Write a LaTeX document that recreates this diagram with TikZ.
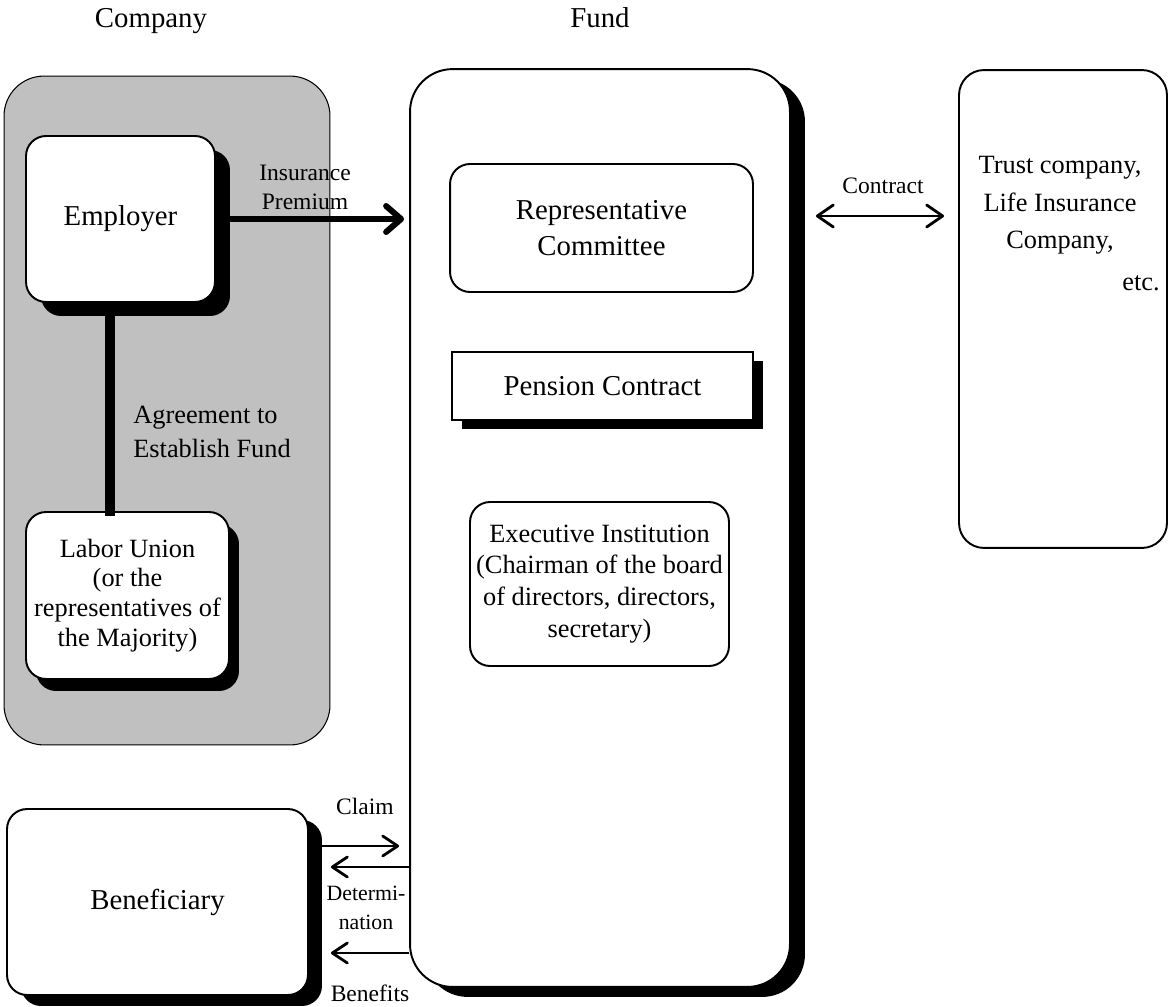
\documentclass[tikz,border=0pt]{standalone}
\usepackage{fontspec}
\setmainfont{Liberation Serif}
\usetikzlibrary{arrows.meta,shadows}
\definecolor{panel}{RGB}{192,192,192}

\tikzset{
  big/.style={font=\fontsize{16.4pt}{20.4pt}\selectfont},
  mid/.style={font=\fontsize{15pt}{17pt}\selectfont},
  small/.style={font=\fontsize{13.4pt}{16.4pt}\selectfont},
  tiny/.style={font=\fontsize{12.4pt}{16.4pt}\selectfont},
  box/.style={draw, line width=1.1pt, rounded corners=0.4cm, fill=white,
    inner sep=0pt, align=center},
  shade/.style 2 args={drop shadow={shadow xshift=#1, shadow yshift=#2,
    fill=black, opacity=1}},
  label/.style={inner sep=0pt, align=center},
  premium/.style={line width=3.4pt,
    -{Straight Barb[length=0.3cm,width=0.52cm,round]}},
  agreement/.style={line width=5.7pt},
  flow/.style={line width=1.6pt,
    -{Straight Barb[length=0.3cm,width=0.4cm,round]}},
  contract/.style={line width=1.6pt,
    {Straight Barb[length=0.32cm,width=0.44cm,round]}-{Straight Barb[length=0.32cm,width=0.44cm,round]}}
}

\begin{document}
\begin{tikzpicture}[x=0.02cm, y=-0.02cm]
  \useasboundingbox (0,0) rectangle (1170,1007);

  % column titles
  \node[label, big, anchor=base] (tcompany) at (151,28) {Company};
  \node[label, big, anchor=base] (tfund) at (600,28) {Fund};

  % company panel
  \node[draw, line width=0.6pt, fill=panel, rounded corners=0.8cm,
        minimum width=6.52cm, minimum height=13.38cm] (company) at (167,410.5) {};

  \node[box, big, shade={0.3cm}{-0.28cm},
        minimum width=3.78cm, minimum height=3.32cm] (employer) at (120.5,219) {Employer};

  \node[box, font=\fontsize{15pt}{17pt}\selectfont, shade={0.2cm}{-0.24cm},
        minimum width=4.06cm, minimum height=3.34cm] (union) at (127.5,595.5)
        {Labor Union\\(or the\\representatives of\\the Majority)};

  \node[label, align=left, anchor=west,
        font=\fontsize{15pt}{19.8pt}\selectfont] (agreetext) at (133,432)
        {Agreement to\\Establish Fund};

  % beneficiary
  \node[box, big, shade={0.28cm}{-0.22cm},
        minimum width=6.02cm, minimum height=3.72cm] (benef) at (157.5,902) {Beneficiary};

  % fund
  \node[box, rounded corners=0.85cm, shade={0.3cm}{-0.2cm},
        minimum width=7.6cm, minimum height=18.36cm] (fund) at (600,528) {};

  \node[box, big, minimum width=6.06cm, minimum height=2.56cm] (committee)
        at (601.5,228) {Representative\\Committee};

  \node[box, big, rounded corners=0pt, shade={0.2cm}{-0.18cm},
        minimum width=6.02cm, minimum height=1.36cm] (pension)
        at (602.5,386) {Pension Contract};

  \node[box, font=\fontsize{15pt}{18.1pt}\selectfont,
        minimum width=5.18cm, minimum height=3.28cm] (exec) at (599.5,584)
        {Executive Institution\\(Chairman of the board\\of directors, directors,\\secretary)};

  % trust company
  \node[box, rounded corners=0.5cm, minimum width=4.16cm, minimum height=9.56cm]
        (trust) at (1063,309) {};
  \node[label, font=\fontsize{15pt}{21.3pt}\selectfont] (trusttext) at (1060,205.5)
        {Trust company,\\Life Insurance\\Company,};
  \node[label, mid, anchor=east] (etc) at (1160,283) {etc.};

  % connectors
  \draw[premium, shorten >=0.1cm] (employer.east) -- (fund.west |- employer.east);
  \node[label, small] (premtext) at (305,187) {Insurance\\Premium};

  \draw[agreement] ([xshift=-0.21cm]employer.south)
        -- ([xshift=-0.21cm,yshift=-0.1cm]employer.south |- union.north);

  \coordinate (ycontract) at (0,216);
  \draw[contract, shorten <=0.5cm, shorten >=0.28cm]
        (fund.east |- ycontract) -- (trust.west |- ycontract);
  \node[label, small] (contracttext) at (883,186) {Contract};

  \coordinate (yclaim) at (0,846);
  \coordinate (ydet) at (0,867);
  \coordinate (ybenefit) at (0,953);
  \draw[flow, shorten >=0.2cm] (benef.east |- yclaim) -- (fund.west |- yclaim);
  \draw[flow, shorten >=0.44cm] (fund.west |- ydet) -- (benef.east |- ydet);
  \draw[flow, shorten >=0.44cm] (fund.west |- ybenefit) -- (benef.east |- ybenefit);

  \node[label, small] (claimtext) at (365,806) {Claim};
  \node[label, tiny] (dettext) at (366,908) {Determi-\\nation};
  \node[label, small] (benefittext) at (370,993) {Benefits};
\end{tikzpicture}
\end{document}
